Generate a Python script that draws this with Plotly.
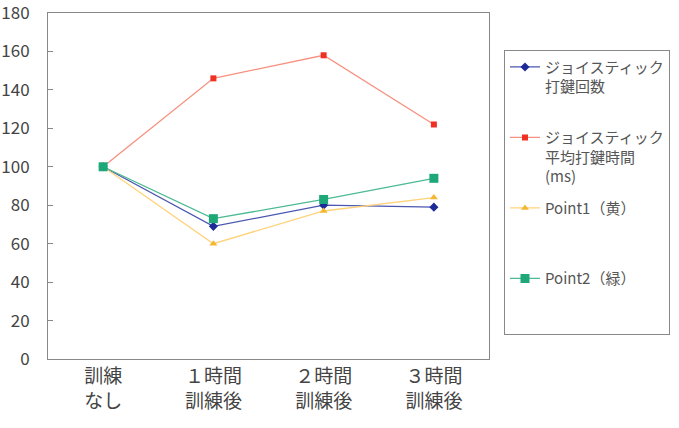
import plotly.graph_objects as go

categories = ["訓練<br>なし", "１時間<br>訓練後", "２時間<br>訓練後", "３時間<br>訓練後"]
keystroke_count = [100, 69, 80, 79]
keystroke_time = [100, 146, 158, 122]
point1_yellow = [100, 60, 77, 84]
point2_green = [100, 73, 83, 94]
y_ticks = [0, 20, 40, 60, 80, 100, 120, 140, 160, 180]

NB = "\u00a0"
series = [
    ("ジョイスティック<br>打鍵回数<br>" + NB, keystroke_count, "#1c2b96", "#4a57b0", "diamond", 7),
    ("ジョイスティック<br>平均打鍵時間<br>(ms)", keystroke_time, "#ee3124", "#f6907f", "square", 6),
    ("Point1（黄）<br>" + NB + "<br>" + NB, point1_yellow, "#f5b731", "#ffd27a", "triangle-up", 7),
    ("Point2（緑）<br>" + NB + "<br>" + NB, point2_green, "#1ea878", "#4cba94", "square", 9),
]

fig = go.Figure()
for i, (name, vals, mc, lc, sym, sz) in enumerate(series):
    fig.add_trace(go.Scatter(
        x=categories, y=vals, name=name, mode="lines+markers",
        line=dict(color=lc, width=1.3),
        marker=dict(color=mc, symbol=sym, size=sz),
        legendgroup="g%d" % i,
    ))

fig.update_layout(
    template="none",
    width=679, height=428,
    margin=dict(l=48, r=190, t=13, b=69, autoexpand=False),
    paper_bgcolor="white", plot_bgcolor="white",
    font=dict(family="Noto Sans CJK JP", color="#444"),
    showlegend=True,
    legend=dict(
        x=1.034, y=0.894, xanchor="left", yanchor="top",
        bordercolor="#888", borderwidth=1,
        font=dict(size=15, color="#555", family="Noto Sans CJK JP"),
        traceorder="grouped", tracegroupgap=9, valign="top",
        bgcolor="white",
    ),
    xaxis=dict(
        range=[-0.5, 3.5], showline=True, linecolor="#888", linewidth=1,
        mirror=True, ticks="", showgrid=False, automargin=False,
        tickfont=dict(size=19, color="#444"),
    ),
    yaxis=dict(
        range=[0, 180], tickvals=y_ticks, showline=True, linecolor="#888",
        linewidth=1, mirror=True, ticks="inside", ticklen=5, tickcolor="#888",
        showgrid=False, zeroline=False, tickfont=dict(size=17, color="#444"),
        ticklabelstandoff=14, automargin=False, ticklabeloverflow="allow",
    ),
)

fig.write_html("out.html")
